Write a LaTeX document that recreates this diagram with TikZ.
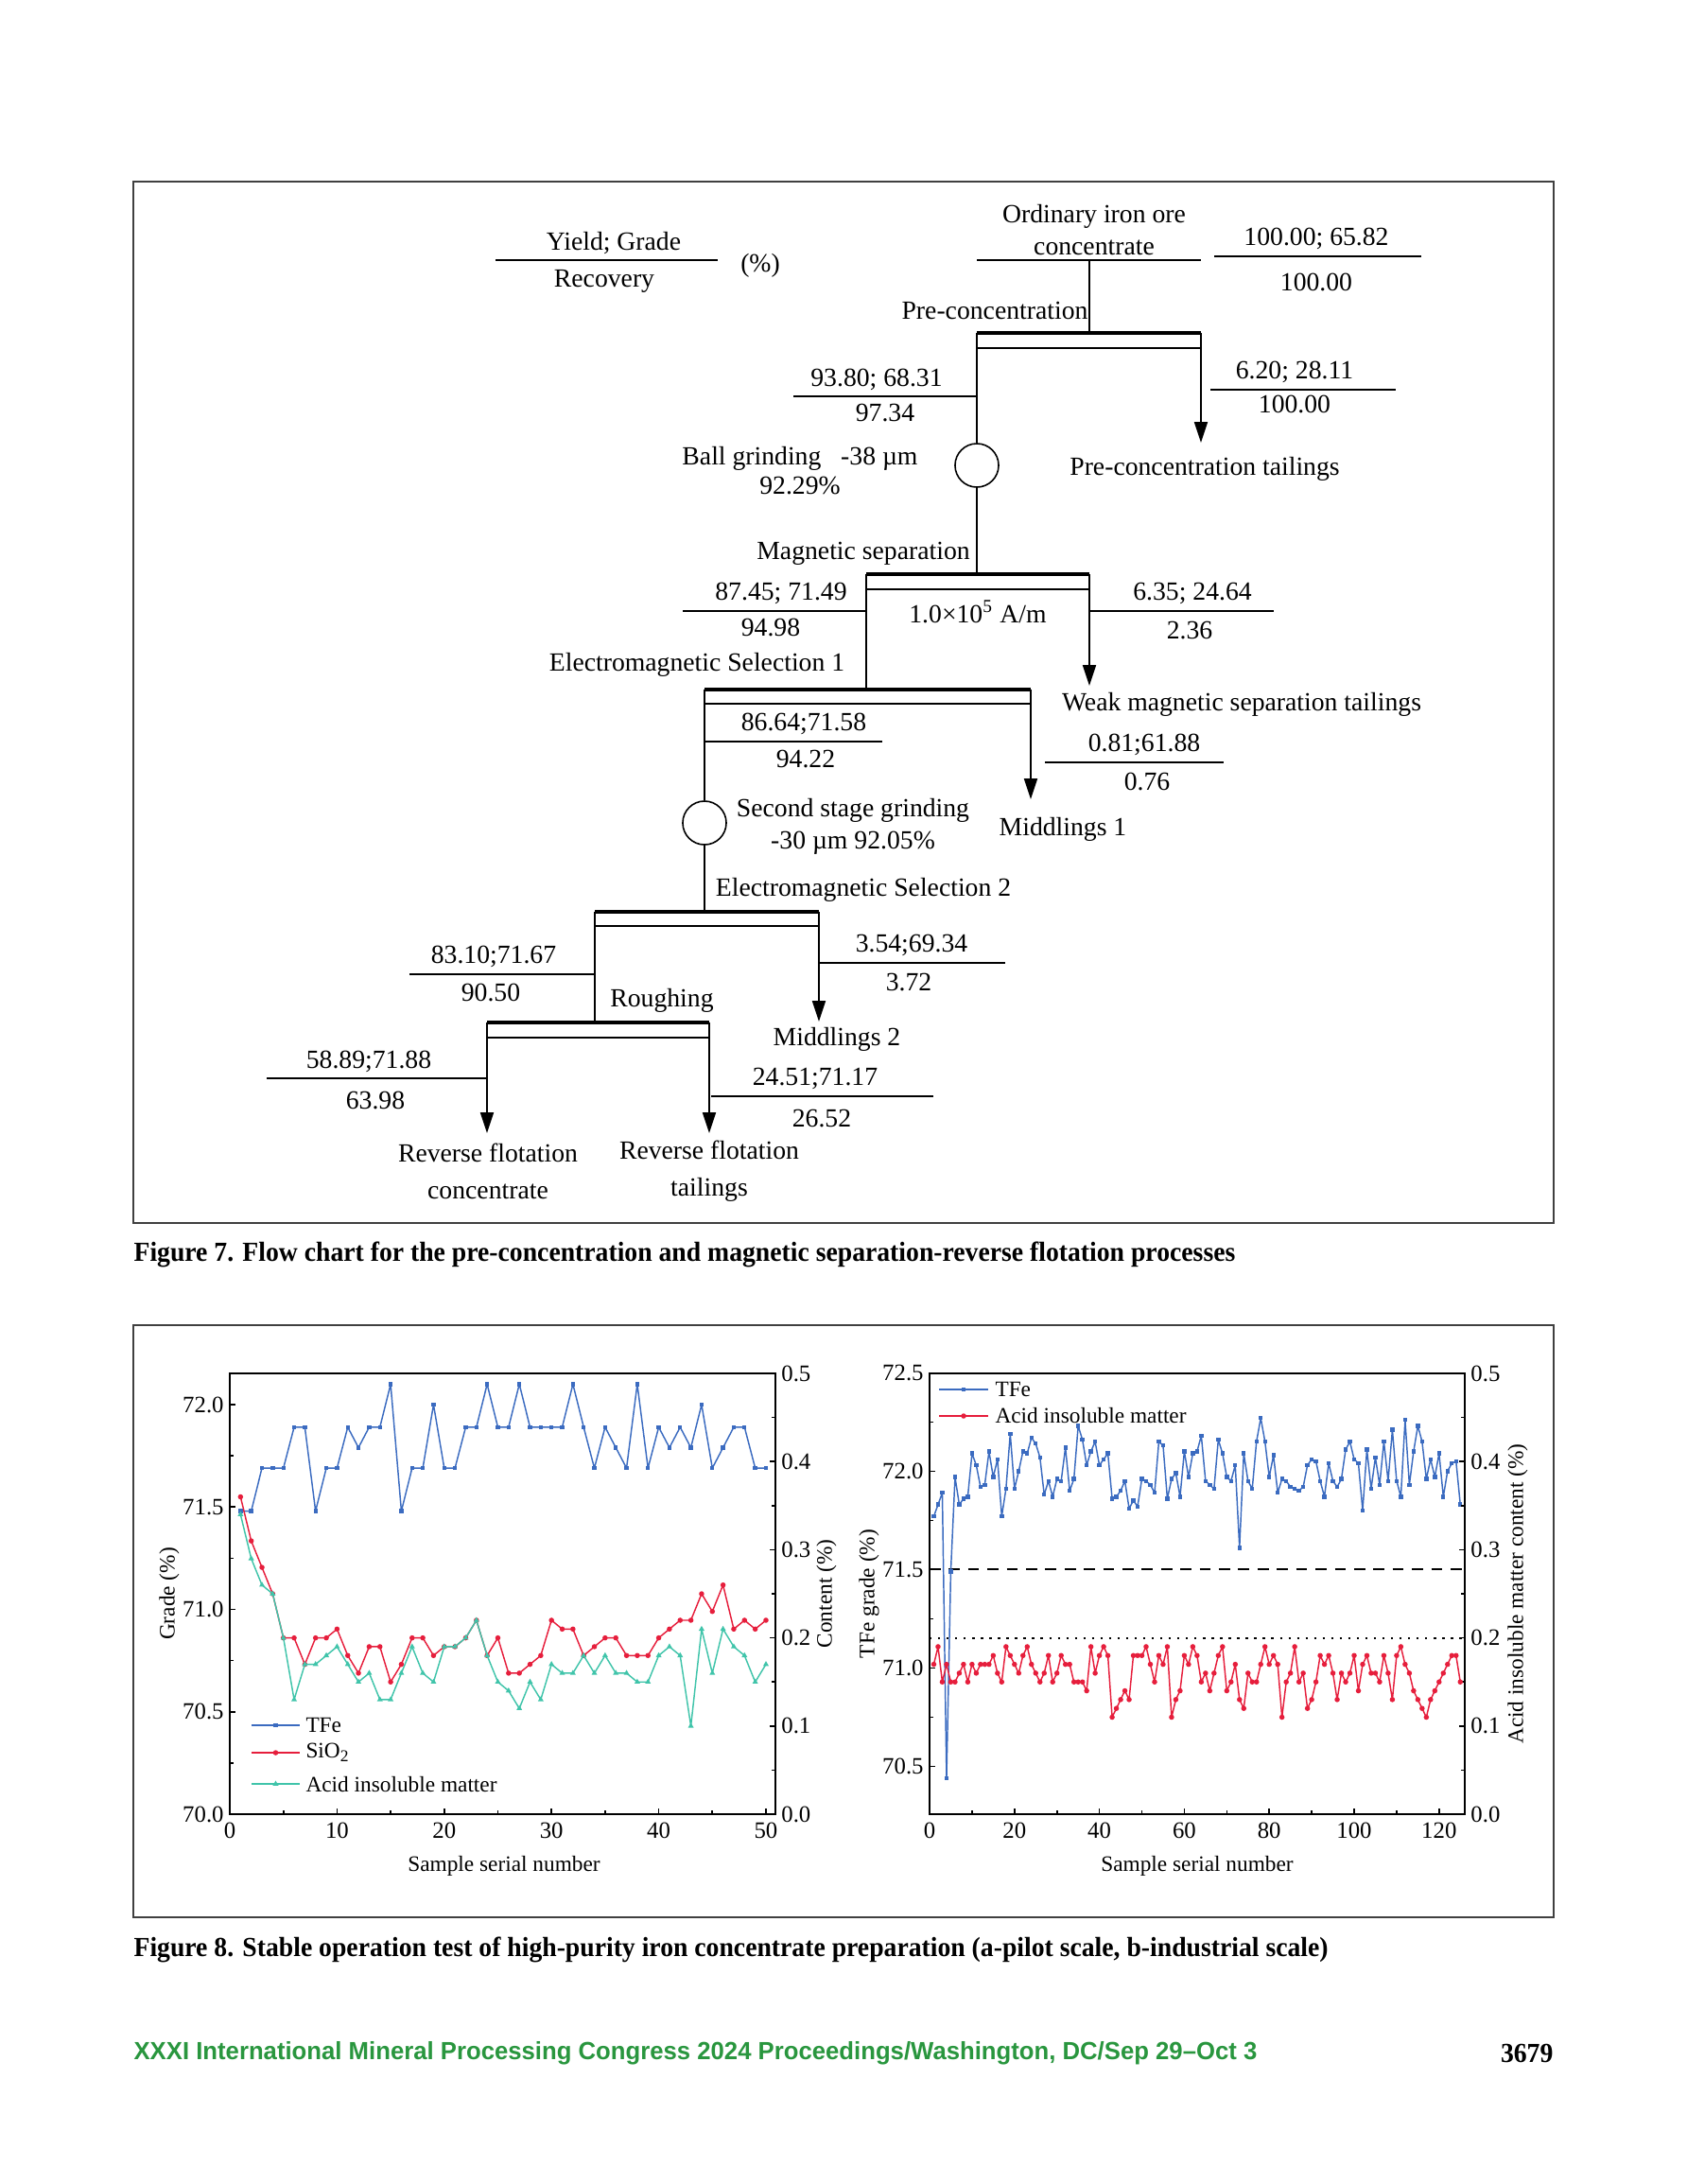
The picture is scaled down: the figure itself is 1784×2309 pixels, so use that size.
\documentclass[tikz,border=0pt]{standalone}
\usepackage{fontspec}
\setmainfont{Liberation Serif}
\newfontfamily\capfont{Liberation Serif}[FakeStretch=0.95]
\newfontfamily\footfont{Liberation Sans}[FakeStretch=0.98]
\usetikzlibrary{arrows.meta}

% pilot test (a)
\newcommand\tfea{71.48,71.48,71.69,71.69,71.69,71.89,71.89,71.48,71.69,71.69,%
71.89,71.79,71.89,71.89,72.1,71.48,71.69,71.69,72.0,71.69,%
71.69,71.89,71.89,72.1,71.89,71.89,72.1,71.89,71.89,71.89,%
71.89,72.1,71.89,71.69,71.89,71.79,71.69,72.1,71.69,71.89,%
71.79,71.89,71.79,72.0,71.69,71.79,71.89,71.89,71.69,71.69}
\newcommand\sioa{0.36,0.31,0.28,0.25,0.20,0.20,0.17,0.20,0.20,0.21,%
0.18,0.16,0.19,0.19,0.15,0.17,0.20,0.20,0.18,0.19,%
0.19,0.20,0.22,0.18,0.20,0.16,0.16,0.17,0.18,0.22,%
0.21,0.21,0.18,0.19,0.20,0.20,0.18,0.18,0.18,0.20,%
0.21,0.22,0.22,0.25,0.23,0.26,0.21,0.22,0.21,0.22}
\newcommand\acida{0.34,0.29,0.26,0.25,0.20,0.13,0.17,0.17,0.18,0.19,%
0.17,0.15,0.16,0.13,0.13,0.16,0.19,0.16,0.15,0.19,%
0.19,0.20,0.22,0.18,0.15,0.14,0.12,0.15,0.13,0.17,%
0.16,0.16,0.18,0.16,0.18,0.16,0.16,0.15,0.15,0.18,%
0.19,0.18,0.10,0.21,0.16,0.21,0.19,0.18,0.15,0.17}
% industrial test (b)
\newcommand\tfeb{71.77,71.83,71.89,70.44,71.49,71.97,71.83,71.86,71.87,72.09,%
72.03,71.92,71.93,72.10,71.97,72.06,71.77,71.91,72.19,71.91,%
72.00,72.10,72.09,72.17,72.14,72.07,71.88,71.95,71.87,71.96,%
71.95,72.12,71.90,71.96,72.23,72.16,72.03,72.10,72.15,72.03,%
72.06,72.09,71.86,71.87,71.90,71.95,71.81,71.85,71.82,71.96,%
71.95,71.93,71.89,72.15,72.13,71.86,71.96,71.99,71.87,72.10,%
71.97,72.09,72.10,72.18,71.95,71.93,71.91,72.16,72.09,71.97,%
71.95,72.03,71.61,72.09,71.95,71.91,72.15,72.27,72.15,71.97,%
72.08,71.89,71.96,71.95,71.92,71.91,71.90,71.92,72.03,72.06,%
72.05,71.95,71.87,72.04,71.95,71.92,71.96,72.11,72.15,72.06,%
72.04,71.80,72.11,71.91,72.07,71.93,72.15,71.95,72.21,71.95,%
71.87,72.26,71.93,72.10,72.23,72.15,71.96,72.06,71.97,72.09,%
71.87,72.00,72.04,72.05,71.83}
\newcommand\acidb{0.17,0.19,0.15,0.17,0.15,0.15,0.16,0.17,0.15,0.17,%
0.16,0.17,0.17,0.17,0.18,0.16,0.15,0.19,0.18,0.17,%
0.16,0.18,0.19,0.17,0.16,0.15,0.16,0.18,0.15,0.16,%
0.18,0.17,0.17,0.15,0.15,0.15,0.14,0.19,0.16,0.18,%
0.19,0.18,0.11,0.12,0.13,0.14,0.13,0.18,0.18,0.18,%
0.19,0.17,0.15,0.18,0.17,0.19,0.11,0.13,0.14,0.18,%
0.17,0.19,0.18,0.15,0.16,0.14,0.16,0.18,0.19,0.14,%
0.15,0.17,0.13,0.12,0.16,0.15,0.15,0.17,0.19,0.17,%
0.18,0.17,0.11,0.15,0.16,0.19,0.15,0.16,0.12,0.13,%
0.15,0.18,0.17,0.18,0.16,0.13,0.16,0.15,0.16,0.18,%
0.14,0.17,0.18,0.16,0.16,0.15,0.18,0.16,0.13,0.18,%
0.19,0.17,0.16,0.14,0.13,0.12,0.11,0.13,0.14,0.15,%
0.16,0.17,0.18,0.18,0.15}

\tikzset{
  flow/.style={line width=0.55pt},
  bar/.style={line width=1.7pt},
  arrowline/.style={flow,-{Triangle[length=7.5pt,width=4.8pt]}},
  grind/.style={draw,flow,circle,minimum size=15.8pt,inner sep=0pt},
  panel/.style={draw=black!75,line width=0.8pt},
  axisline/.style={line width=0.55pt},
  series/.style={line width=0.5pt,line join=round},
  ticklab/.style={font=\fontsize{8.5}{10}\selectfont,inner sep=2pt},
  lab/.style={font=\fontsize{8}{10}\selectfont},
  leg/.style={font=\fontsize{8}{10}\selectfont,anchor=west,inner sep=1pt},
  capt/.style={anchor=west,inner sep=0pt,font=\capfont\bfseries\fontsize{10}{12}\selectfont},
}

\begin{document}
\begin{tikzpicture}[x=0.34305pt,y=-0.34305pt,
    every node/.style={font=\fontsize{9.5}{11.7}\selectfont}]
    % colours
    \definecolor{tfeblue}{RGB}{59,107,192}
    \definecolor{siored}{RGB}{230,30,60}
    \definecolor{acidteal}{RGB}{64,196,170}
    \definecolor{footgreen}{RGB}{41,150,62}

    \useasboundingbox (0,0) rectangle (1784,2309);

    % frames
    \draw[panel] (141,192) rectangle (1643,1293);
    \draw[panel] (141,1401) rectangle (1643,2027);

    % key of the values
    \node (yg) at (649,257) {Yield; Grade};
    \node (rec) at (639,297) {Recovery};
    \node (pcent) at (804,281) {(\%)};
    \draw[flow] (524,275) -- (759,275);

    % feed
    \node[align=center] (ore) at (1157,243) {Ordinary iron ore\\concentrate};
    \draw[flow] (1033,275) -- (1270,275);
    \node (v0a) at (1392,252) {100.00; 65.82};
    \node (v0b) at (1392,298) {100.00};
    \draw[flow] (1284,271) -- (1503,271);

    % pre-concentration
    \coordinate (feed) at (1152,275);
    \coordinate (pc-l) at (1033,352);
    \coordinate (pc-r) at (1270,352);
    \coordinate (pc-t) at (1270,468);
    \node (pc) at (1052,328) {Pre-concentration};
    \draw[flow] (feed) -- (feed |- pc-l);
    \draw[bar] (pc-l) -- (pc-r);
    \draw[flow] (1033,368) -- (1270,368);
    \draw[arrowline] (pc-r) -- (pc-t);
    \node (pctail) at (1274,496) {Pre-concentration tailings};
    \node (v1a) at (927,401) {93.80; 68.31};
    \node (v1b) at (936,437) {97.34};
    \draw[flow] (839,419) -- (1033,419);
    \node (v2a) at (1369,393) {6.20; 28.11};
    \node (v2b) at (1369,427) {100.00};
    \draw[flow] (1280,412) -- (1476,412);

    % ball grinding
    \node[grind] (g1) at (1033,492) {};
    \node[align=center] (g1t) at (846,498) {Ball grinding~~~-38 µm\\[-1.1pt]92.29\%};
    \draw[flow] (pc-l) -- (g1);

    % magnetic separation
    \coordinate (ms-l) at (916,607);
    \coordinate (ms-r) at (1152,607);
    \coordinate (ms-t) at (1152,725);
    \node (ms) at (913,585) {Magnetic separation};
    \draw[flow] (g1) -- (g1 |- ms-l);
    \draw[bar] (ms-l) -- (ms-r);
    \draw[flow] (916,623) -- (1152,623);
    \draw[arrowline] (ms-r) -- (ms-t);
    \node (field) at (1034,647) {1.0×10\textsuperscript{5} A/m};
    \node (wmt) at (1313,745) {Weak magnetic separation tailings};
    \node (v3a) at (826,627) {87.45; 71.49};
    \node (v3b) at (815,663) {94.98};
    \draw[flow] (722,646) -- (916,646);
    \node (v4a) at (1261,627) {6.35; 24.64};
    \node (v4b) at (1258,667) {2.36};
    \draw[flow] (1152,646) -- (1347,646);

    % electromagnetic selection 1
    \coordinate (e1-l) at (745,729);
    \coordinate (e1-r) at (1090,729);
    \coordinate (e1-t) at (1090,845);
    \node (e1) at (737,703) {Electromagnetic Selection 1};
    \draw[flow] (ms-l) -- (ms-l |- e1-l);
    \draw[bar] (e1-l) -- (e1-r);
    \draw[flow] (745,744) -- (1090,744);
    \draw[arrowline] (e1-r) -- (e1-t);
    \node (mid1) at (1124,877) {Middlings 1};
    \node (v5a) at (850,765) {86.64;71.58};
    \node (v5b) at (852,803) {94.22};
    \draw[flow] (745,784) -- (933,784);
    \node (v6a) at (1210,787) {0.81;61.88};
    \node (v6b) at (1213,826) {0.76};
    \draw[flow] (1105,806) -- (1294,806);

    % second stage grinding
    \node[grind] (g2) at (745,870) {};
    \node[align=center] (g2t) at (902,874) {Second stage grinding\\-30 µm 92.05\%};
    \draw[flow] (e1-l) -- (g2);

    % electromagnetic selection 2
    \coordinate (e2-l) at (629,964);
    \coordinate (e2-r) at (866,964);
    \coordinate (e2-t) at (866,1080);
    \node (e2) at (913,941) {Electromagnetic Selection 2};
    \draw[flow] (g2) -- (g2 |- e2-l);
    \draw[bar] (e2-l) -- (e2-r);
    \draw[flow] (629,979) -- (866,979);
    \draw[arrowline] (e2-r) -- (e2-t);
    \node (mid2) at (885,1099) {Middlings 2};
    \node (v7a) at (964,999) {3.54;69.34};
    \node (v7b) at (961,1039) {3.72};
    \draw[flow] (866,1018) -- (1063,1018);
    \node (v8a) at (522,1011) {83.10;71.67};
    \node (v8b) at (519,1049) {90.50};
    \draw[flow] (433,1030) -- (629,1030);

    % roughing
    \coordinate (ro-l) at (515,1081);
    \coordinate (ro-r) at (750,1081);
    \coordinate (ro-lt) at (515,1198);
    \coordinate (ro-rt) at (750,1198);
    \node (ro) at (700,1058) {Roughing};
    \draw[flow] (e2-l) -- (e2-l |- ro-l);
    \draw[bar] (ro-l) -- (ro-r);
    \draw[flow] (515,1097) -- (750,1097);
    \draw[arrowline] (ro-l) -- (ro-lt);
    \draw[arrowline] (ro-r) -- (ro-rt);
    \node[align=center] (rfc) at (516,1238) {Reverse flotation\\[1.7pt]concentrate};
    \node[align=center] (rft) at (750,1238) {Reverse flotation\\[1.7pt]tailings};
    \node (v9a) at (390,1122) {58.89;71.88};
    \node (v9b) at (397,1163) {63.98};
    \draw[flow] (282,1140) -- (515,1140);
    \node (v10a) at (862,1140) {24.51;71.17};
    \node (v10b) at (869,1183) {26.52};
    \draw[flow] (752,1159) -- (987,1159);

    \node[capt] (cap7) at (141,1326) {Figure 7. Flow chart for the pre-concentration and magnetic separation-reverse flotation processes};

    % test a, grade
    \draw[axisline] (243,1452) rectangle (820,1918);
    \begin{scope}[shift={(243,1918)},x=3.890pt,y=74.27pt,yshift=-5198.9pt]
        \foreach \v/\t [count=\k] in {70/70.0,70.5/70.5,71/71.0,71.5/71.5,72/72.0}{
            \draw[axisline] (0,\v) -- ++(2.2pt,0);
            \node[ticklab,anchor=east] (ga\k) at (0,\v) {\t};}
        \foreach \v in {70.25,70.75,71.25,71.75}
            \draw[axisline] (0,\v) -- ++(1.4pt,0);
        \foreach \x [count=\k] in {0,10,...,50}{
            \draw[axisline] (\x,70) -- ++(0,2.2pt);
            \node[ticklab,anchor=north,inner sep=3pt] (na\k) at (\x,70) {\x};}
        \foreach \x in {5,15,...,45}
            \draw[axisline] (\x,70) -- ++(0,1.4pt);
        \foreach \v [count=\n] in \tfea {\coordinate (ta\n) at (\n,\v);}
        \draw[series,tfeblue] (ta1) \foreach \n in {2,...,50}{-- (ta\n)};
        \foreach \n in {1,...,50}
            \fill[tfeblue] (ta\n) ++(-0.75pt,-0.75pt) rectangle ++(1.5pt,1.5pt);
    \end{scope}
    % test a, content
    \begin{scope}[shift={(243,1918)},x=3.890pt,y=319.7pt]
        \foreach \v [count=\k] in {0.0,0.1,0.2,0.3,0.4,0.5}{
            \draw[axisline] (50.88,\v) -- ++(-2.2pt,0);
            \node[ticklab,anchor=west] (ca\k) at (50.88,\v) {\v};}
        \foreach \v in {0.05,0.15,0.25,0.35,0.45}
            \draw[axisline] (50.88,\v) -- ++(-1.4pt,0);
        \foreach \v [count=\n] in \sioa {\coordinate (sa\n) at (\n,\v);}
        \foreach \v [count=\n] in \acida {\coordinate (aa\n) at (\n,\v);}
        \draw[series,siored] (sa1) \foreach \n in {2,...,50}{-- (sa\n)};
        \foreach \n in {1,...,50}
            \fill[siored] (sa\n) circle[radius=0.95pt];
        \draw[series,acidteal] (aa1) \foreach \n in {2,...,50}{-- (aa\n)};
        \foreach \n in {1,...,50}
            \fill[acidteal] (aa\n) ++(90:1.2pt) -- ++(240:2.08pt) -- ++(0:2.08pt) -- cycle;
    \end{scope}
    % legend a
    \draw[series,tfeblue] (266,1824) -- (317,1824);
    \fill[tfeblue] (291.5,1824) ++(-0.75pt,-0.75pt) rectangle ++(1.5pt,1.5pt);
    \node[leg] (la1) at (320,1824) {TFe};
    \draw[series,siored] (266,1853) -- (317,1853);
    \fill[siored] (291.5,1853) circle[radius=0.95pt];
    \node[leg] (la2) at (320,1853) {SiO\textsubscript{2}};
    \draw[series,acidteal] (266,1886) -- (317,1886);
    \fill[acidteal] (291.5,1886) ++(90:1.2pt) -- ++(240:2.08pt) -- ++(0:2.08pt) -- cycle;
    \node[leg] (la3) at (320,1886) {Acid insoluble matter};
    \node[lab,rotate=90] (gya) at (179,1685) {Grade (\%)};
    \node[lab,rotate=90] (cya) at (874,1685) {Content (\%)};
    \node[lab] (sxa) at (533,1973) {Sample serial number};

    % test b, grade
    \draw[axisline] (983,1452) rectangle (1549,1918);
    \begin{scope}[shift={(983,1555.3)},x=1.5403pt,y=71.355pt,yshift=-5137.56pt]
        \foreach \v/\t [count=\k] in {70.5/70.5,71/71.0,71.5/71.5,72/72.0,72.5/72.5}{
            \draw[axisline] (0,\v) -- ++(2.2pt,0);
            \node[ticklab,anchor=east] (gb\k) at (0,\v) {\t};}
        \foreach \v in {70.75,71.25,71.75,72.25}
            \draw[axisline] (0,\v) -- ++(1.4pt,0);
        \foreach \x [count=\k] in {0,20,...,120}{
            \draw[axisline] (\x,70.256) -- ++(0,2.2pt);
            \node[ticklab,anchor=north,inner sep=3pt] (nb\k) at (\x,70.256) {\x};}
        \foreach \x in {10,30,...,110}
            \draw[axisline] (\x,70.256) -- ++(0,1.4pt);
        \draw[line width=0.6pt,dash pattern=on 4pt off 3pt] (0,71.5) -- (126,71.5);
        \foreach \v [count=\n] in \tfeb {\coordinate (tb\n) at (\n,\v);}
        \draw[series,tfeblue] (tb1) \foreach \n in {2,...,125}{-- (tb\n)};
        \foreach \n in {1,...,125}
            \fill[tfeblue] (tb\n) ++(-0.75pt,-0.75pt) rectangle ++(1.5pt,1.5pt);
    \end{scope}
    % test b, content
    \begin{scope}[shift={(983,1918)},x=1.5403pt,y=319.7pt]
        \foreach \v [count=\k] in {0.0,0.1,0.2,0.3,0.4,0.5}{
            \draw[axisline] (126.06,\v) -- ++(-2.2pt,0);
            \node[ticklab,anchor=west] (cb\k) at (126.06,\v) {\v};}
        \foreach \v in {0.05,0.15,0.25,0.35,0.45}
            \draw[axisline] (126.06,\v) -- ++(-1.4pt,0);
        \draw[line width=0.6pt,dash pattern=on 0.8pt off 2.3pt] (0,0.2) -- (126.06,0.2);
        \foreach \v [count=\n] in \acidb {\coordinate (ab\n) at (\n,\v);}
        \draw[series,siored] (ab1) \foreach \n in {2,...,125}{-- (ab\n)};
        \foreach \n in {1,...,125}
            \fill[siored] (ab\n) circle[radius=0.95pt];
    \end{scope}
    % legend b
    \draw[series,tfeblue] (993,1469) -- (1045,1469);
    \fill[tfeblue] (1019,1469) ++(-0.75pt,-0.75pt) rectangle ++(1.5pt,1.5pt);
    \node[leg] (lb1) at (1049,1469) {TFe};
    \draw[series,siored] (993,1497) -- (1045,1497);
    \fill[siored] (1019,1497) circle[radius=0.95pt];
    \node[leg] (lb2) at (1049,1497) {Acid insoluble matter};
    \node[lab,rotate=90] (gyb) at (919,1685) {TFe grade (\%)};
    \node[lab,rotate=90] (cyb) at (1605,1685) {Acid insoluble matter content (\%)};
    \node[lab] (sxb) at (1266,1973) {Sample serial number};

    \node[capt] (cap8) at (141,2061) {Figure 8. Stable operation test of high-purity iron concentrate preparation (a-pilot scale, b-industrial scale)};

    % footer
    \node[anchor=west,inner sep=0pt,text=footgreen,font=\footfont\bfseries\fontsize{9}{11}\selectfont] (foot) at (141,2171) {XXXI International Mineral Processing Congress 2024 Proceedings/Washington, DC/Sep 29–Oct 3};
    \node[anchor=east,inner sep=0pt,font=\capfont\bfseries\fontsize{10}{12}\selectfont] (pg) at (1643,2171) {3679};
\end{tikzpicture}
\end{document}
